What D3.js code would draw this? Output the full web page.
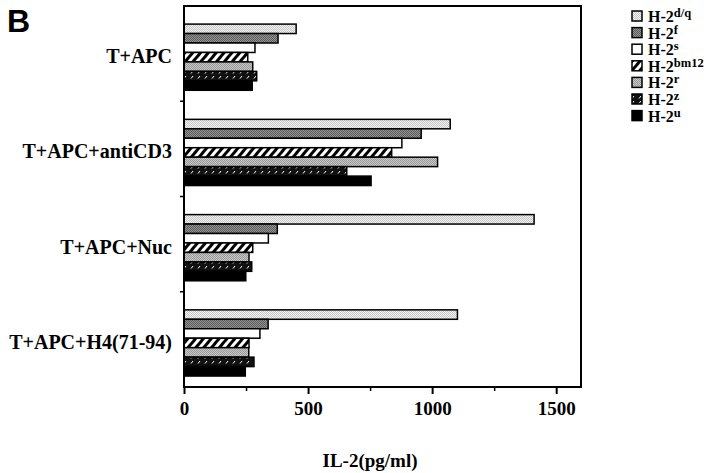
<!DOCTYPE html>
<html><head><meta charset="utf-8">
<script src="https://cdn.jsdelivr.net/npm/d3@7"></script>
<style>body{margin:0;background:#fff}svg{display:block}</style>
</head><body>
<svg id="c" width="720" height="473"></svg>
<script>
const categories = ["T+APC","T+APC+antiCD3","T+APC+Nuc","T+APC+H4(71-94)"];
const series = ["d/q","f","s","bm12","r","z","u"];
const values_dq   = [452, 1073, 1411, 1102];
const values_f    = [379, 956, 376, 339];
const values_s    = [286, 878, 340, 306];
const values_bm12 = [257, 837, 277, 262];
const values_r    = [277, 1022, 262, 261];
const values_z    = [293, 656, 273, 282];
const values_u    = [275, 754, 249, 247];
const xTicks = [0, 500, 1000, 1500];
const xMinorTicks = [250, 750, 1250];
const valuesBySeries = [values_dq, values_f, values_s, values_bm12, values_r, values_z, values_u];

const svg = d3.select("#c");
const defs = svg.append("defs");
const serif = "'Liberation Serif','Times New Roman',serif";

function stipple(id, base, dot) {
  const p = defs.append("pattern").attr("id", id).attr("patternUnits","userSpaceOnUse")
    .attr("width",2).attr("height",2);
  p.append("rect").attr("width",2).attr("height",2).attr("fill",base);
  p.append("rect").attr("width",1).attr("height",1).attr("fill",dot);
  p.append("rect").attr("x",1).attr("y",1).attr("width",1).attr("height",1).attr("fill",dot);
}
stipple("p-dq", "#f4f4f4", "#c4c4c4");
stipple("p-f", "#959595", "#5a5a5a");
stipple("p-r", "#c8c8c8", "#989898");
{
  const p = defs.append("pattern").attr("id","p-bm12").attr("patternUnits","userSpaceOnUse")
    .attr("width",6).attr("height",6).attr("patternTransform","rotate(40)");
  p.append("rect").attr("width",6).attr("height",6).attr("fill","#fff");
  p.append("rect").attr("width",3).attr("height",6).attr("fill","#000");
}
{
  const p = defs.append("pattern").attr("id","p-z").attr("patternUnits","userSpaceOnUse")
    .attr("width",7).attr("height",5);
  p.append("rect").attr("width",7).attr("height",5).attr("fill","#111");
  p.append("line").attr("x1",2).attr("y1",3.5).attr("x2",4).attr("y2",1)
    .attr("stroke","#fff").attr("stroke-width",1);
}
const fills = {"d/q":"url(#p-dq)","f":"url(#p-f)","s":"#fff","bm12":"url(#p-bm12)","r":"url(#p-r)","z":"url(#p-z)","u":"#000"};

const x = d3.scaleLinear().domain([0,1600]).range([184,581]);
const y = d3.scaleBand().domain(categories).range([6,387]).paddingInner(0).paddingOuter(0);
const bw = y.bandwidth();
const y1 = d3.scaleBand().domain(series).range([bw*0.19, bw*0.885]).padding(0);

// bars
const g = svg.append("g");
categories.forEach((c, ci) => {
  series.forEach((s, si) => {
    g.append("rect")
      .attr("x", x(0))
      .attr("y", y(c) + y1(s))
      .attr("width", x(valuesBySeries[si][ci]) - x(0))
      .attr("height", y1.bandwidth())
      .attr("fill", fills[s])
      .attr("stroke", "#000").attr("stroke-width", 1.5);
  });
});

// frame
svg.append("rect").attr("x", x(0)).attr("y", 6).attr("width", x(1600)-x(0)).attr("height", 381)
  .attr("fill","none").attr("stroke","#000").attr("stroke-width",2);

// x axis
const xAxis = d3.axisBottom(x).tickValues(xTicks).tickSize(7).tickPadding(8).tickFormat(d3.format("d"));
const ax = svg.append("g").attr("transform","translate(0,387)").call(xAxis);
ax.select(".domain").remove();
ax.selectAll(".tick line").attr("stroke","#000").attr("stroke-width",2);
ax.selectAll("text").attr("font-family",serif).attr("font-weight","bold").attr("font-size",19).attr("fill","#000");
const axm = svg.append("g").attr("transform","translate(0,387)")
  .call(d3.axisBottom(x).tickValues(xMinorTicks).tickSize(4).tickFormat(""));
axm.select(".domain").remove();
axm.selectAll(".tick line").attr("stroke","#000").attr("stroke-width",1.5);

// y axis
const yAxis = d3.axisLeft(y).tickSize(0).tickPadding(12);
const ay = svg.append("g").attr("transform",`translate(${x(0)},0)`).call(yAxis);
ay.select(".domain").remove();
ay.selectAll("text").attr("font-family",serif).attr("font-weight","bold").attr("font-size",20)
  .attr("fill","#000").attr("dy", (bw*0.0375+6) + "px");
categories.slice(1).forEach(c => {
  svg.append("line").attr("x1", x(0)-4).attr("x2", x(0)).attr("y1", y(c)).attr("y2", y(c))
    .attr("stroke","#000").attr("stroke-width",1.5);
});

// axis title
svg.append("text").attr("x", 370).attr("y", 467).attr("text-anchor","middle")
  .attr("font-family",serif).attr("font-weight","bold").attr("font-size",19).text("IL-2(pg/ml)");

// panel letter
svg.append("text").attr("x", 7).attr("y", 32).attr("font-family","'Liberation Sans',Arial,sans-serif")
  .attr("font-weight","bold").attr("font-size",32).text("B");

// legend
const lg = svg.append("g");
series.forEach((s, i) => {
  const cy = 16 + i*16.6;
  lg.append("rect").attr("x",632).attr("y",cy-5).attr("width",10).attr("height",10)
    .attr("fill",fills[s]).attr("stroke","#000").attr("stroke-width",1.5);
  const t = lg.append("text").attr("x",648).attr("y",cy+6)
    .attr("font-family",serif).attr("font-weight","bold").attr("font-size",16);
  t.append("tspan").text("H-2");
  t.append("tspan").attr("dy",-5).attr("font-size",12.5).text(s);
});
</script>
</body></html>
